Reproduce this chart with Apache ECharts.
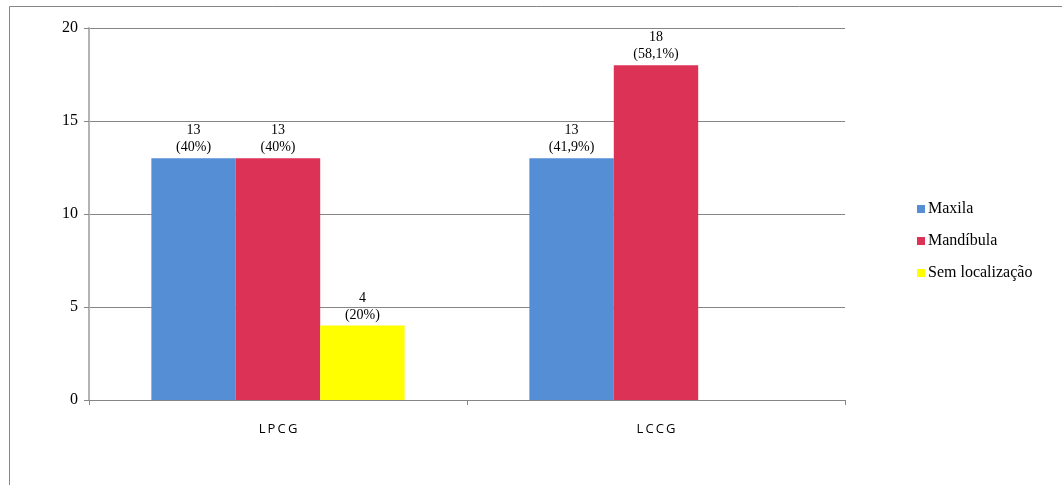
<!DOCTYPE html>
<html>
<head>
<meta charset="utf-8">
<script src="https://cdn.jsdelivr.net/npm/echarts@6/dist/echarts.min.js"></script>
<style>
html,body{margin:0;padding:0;background:#fff;}
#chart{width:1062px;height:485px;}
</style>
</head>
<body>
<div id="chart"></div>
<script>
var categories = ['LPCG', 'LCCG'];
var seriesNames = ['Maxila', 'Mandíbula', 'Sem localização'];
var maxila = [13, 13];
var mandibula = [13, 18];
var semLocalizacao = [4, null];
var maxilaPct = ['40%', '41,9%'];
var mandibulaPct = ['40%', '58,1%'];
var semPct = ['20%', null];
var yTicks = [0, 5, 10, 15, 20];

var colors = ['#558ed5', '#dc3255', '#ffff00'];
var serif = '"Liberation Serif", "Times New Roman", serif';

function mkSeries(name, data, pct, color) {
  return {
    name: name,
    type: 'bar',
    data: data,
    barGap: '0%',
    barCategoryGap: '33%',
    itemStyle: { color: color },
    label: {
      show: true,
      position: 'top',
      distance: 2,
      fontFamily: serif,
      fontSize: 14,
      lineHeight: 17,
      color: '#000',
      formatter: function (p) { return p.value + '\n(' + pct[p.dataIndex] + ')'; }
    }
  };
}

var chart = echarts.init(document.getElementById('chart'));
chart.setOption({
  animation: false,
  backgroundColor: '#fff',
  graphic: [{
    type: 'rect',
    shape: { x: 9.5, y: 6.5, width: 1100, height: 600 },
    style: { fill: 'none', stroke: '#868686', lineWidth: 1 },
    silent: true, z: -10
  }],
  grid: { left: 89, right: 217, top: 28, bottom: 85 },
  legend: {
    orient: 'vertical',
    left: 912,
    top: 196,
    icon: 'rect',
    itemWidth: 8,
    itemHeight: 8,
    itemGap: 16,
    data: seriesNames,
    textStyle: { fontFamily: serif, fontSize: 16, lineHeight: 16, color: '#000', padding: [0, 0, 0, -2] }
  },
  xAxis: {
    type: 'category',
    data: categories,
    axisLine: { lineStyle: { color: '#868686', width: 1 } },
    axisTick: { show: true, length: 5, lineStyle: { color: '#868686' } },
    axisLabel: {
      margin: 23,
      fontFamily: '"Open Sans", "DejaVu Sans", sans-serif',
      fontSize: 13,
      color: '#000',
      formatter: function (v) { return v.split('').join('\u2009'); }
    }
  },
  yAxis: {
    type: 'value',
    min: yTicks[0],
    max: yTicks[yTicks.length - 1],
    interval: yTicks[1] - yTicks[0],
    axisLine: { show: true, lineStyle: { color: '#b3b3b3', width: 2 } },
    axisTick: { show: true, length: 5, lineStyle: { color: '#868686' } },
    splitLine: { lineStyle: { color: '#868686', width: 1 } },
    axisLabel: { margin: 11, fontFamily: serif, fontSize: 16, color: '#000' }
  },
  series: [
    mkSeries(seriesNames[0], maxila, maxilaPct, colors[0]),
    mkSeries(seriesNames[1], mandibula, mandibulaPct, colors[1]),
    mkSeries(seriesNames[2], semLocalizacao, semPct, colors[2])
  ]
});
</script>
</body>
</html>
